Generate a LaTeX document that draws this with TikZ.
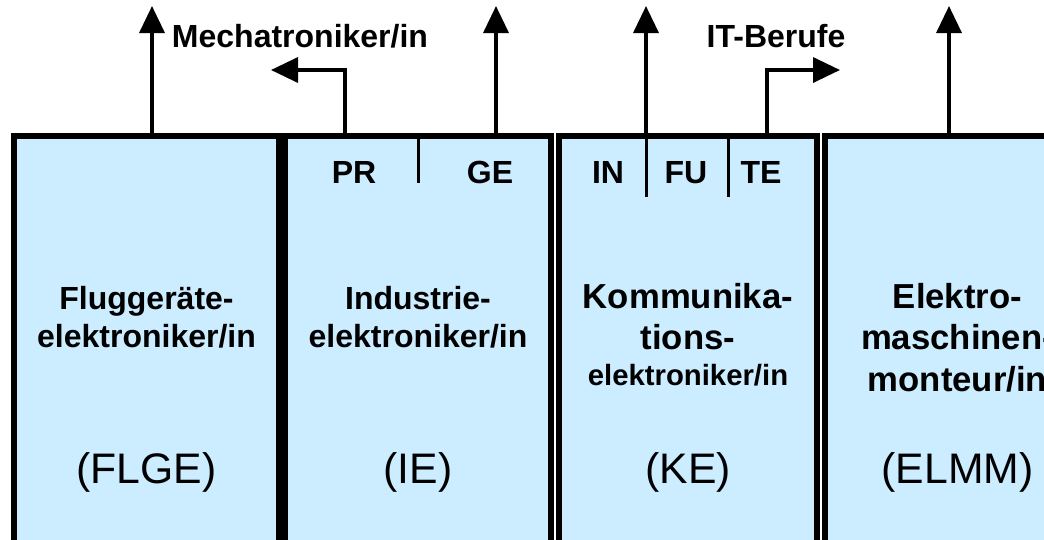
\documentclass[tikz,border=0pt]{standalone}
\usepackage{fontspec}
\setmainfont{Liberation Sans}
\usetikzlibrary{arrows.meta,positioning}
\definecolor{hellblau}{RGB}{204,236,255}
\newcommand\schrift[2]{\fontsize{#1}{#2}\selectfont}

\begin{document}
\begin{tikzpicture}[x=1pt,y=-1pt,
    beruf/.style={draw=black,line width=6pt,fill=hellblau,rectangle,
      outer sep=0pt,inner sep=0pt,anchor=north west,minimum height=424pt},
    pfeil/.style={line width=3.5pt,-{Triangle[length=27pt,width=25pt]}},
    teil/.style={line width=3pt},
    titel/.style={font=\bfseries\schrift{32}{38.4},align=center,inner sep=0pt,anchor=north},
    kurz/.style={font=\schrift{42.7}{51},inner sep=0pt,anchor=base},
    zweig/.style={font=\bfseries\schrift{32}{38.4},inner sep=0pt,anchor=base}]
\useasboundingbox (0,0) rectangle (1044,539);
\begin{scope}
\clip (0,0) rectangle (1044,539);
% die vier Berufe
\node[beruf,minimum width=265pt] (flge) at (14,136) {};
\node[beruf,minimum width=266pt] (ie) at (285,136) {};
\node[beruf,minimum width=258pt] (ke) at (559,136) {};
\node[beruf,minimum width=265pt] (elmm) at (825,136) {};

\node[titel] (flge-name) at (146.5,286) {Fluggeräte-\\elektroniker/in};
\node[titel] (ie-name) at (418,286) {Industrie-\\elektroniker/in};
\node[titel,font=\bfseries\schrift{34.7}{41.6}] (ke-name) at (688,283)
    {Kommunika-\\tions-\\[-6.4pt]{\schrift{29.3}{35.2}elektroniker/in}};
\node[titel,font=\bfseries\schrift{34.7}{41.6}] (elmm-name) at (957.5,283)
    {Elektro-\\maschinen-\\monteur/in};

\node[kurz] (flge-kurz) at (146.5,483) {(FLGE)};
\node[kurz] (ie-kurz) at (418,483) {(IE)};
\node[kurz] (ke-kurz) at (688,483) {(KE)};
\node[kurz] (elmm-kurz) at (957.5,483) {(ELMM)};

% Fachrichtungen
\node[zweig] (pr) at (354,183) {PR};
\node[zweig] (ge) at (490,183) {GE};
\node[zweig] (in) at (608,183) {IN};
\node[zweig] (fu) at (686,183) {FU};
\node[zweig] (te) at (761,183) {TE};

\coordinate (ie-teil) at (418,183);
\coordinate (ke-teil1) at (646,197);
\coordinate (ke-teil2) at (728,197);
\draw[teil] (ie.north -| ie-teil) -- (ie-teil);
\draw[teil] (ke.north -| ke-teil1) -- (ke-teil1);
\draw[teil] (ke.north -| ke-teil2) -- (ke-teil2);

% Ausgaenge nach oben
\node[zweig] (mech) at (300,47) {Mechatroniker/in};
\node[zweig] (it) at (776,47) {IT-Berufe};

\coordinate (flge-oben) at (152,6);
\coordinate (ge-oben) at (496,6);
\coordinate (pr-knick) at (345,70);
\coordinate (mech-spitze) at (271,70);
\coordinate (in-oben) at (646,6);
\coordinate (te-knick) at (767,70);
\coordinate (it-spitze) at (840,70);
\coordinate (elmm-oben) at (949,6);

\draw[pfeil] (flge.north -| flge-oben) -- (flge-oben);
\draw[pfeil] (ie.north -| ge-oben) -- (ge-oben);
\draw[pfeil] (ie.north -| pr-knick) -- (pr-knick) -- (mech-spitze);
\draw[pfeil] (ke.north -| in-oben) -- (in-oben);
\draw[pfeil] (ke.north -| te-knick) -- (te-knick) -- (it-spitze);
\draw[pfeil] (elmm.north -| elmm-oben) -- (elmm-oben);
\end{scope}
\end{tikzpicture}
\end{document}
